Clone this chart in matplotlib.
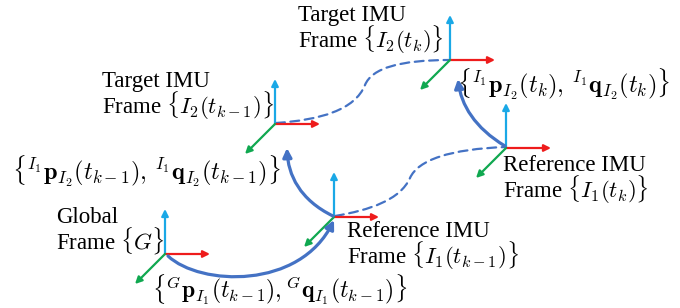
"""
Diagram of the reference / target IMU frames at two time steps.
"""
import matplotlib
matplotlib.use("Agg")
import matplotlib.pyplot as plt
from matplotlib.patches import FancyArrowPatch
from matplotlib.path import Path

plt.rcParams['font.family'] = ['Liberation Serif', 'DejaVu Serif']
plt.rcParams['mathtext.fontset'] = 'cm'

# frame origins (pixel space of the 680x308 picture, y pointing down)
frame_names = ['G', 'I1_km1', 'I2_km1', 'I2_k', 'I1_k']
frame_x = [165, 334, 275, 450, 506]
frame_y = [254, 217, 124, 60, 148]

# frame labels: (text, left x, baseline y of the last line)
label_text = [
    'Target IMU\n' + r'Frame $\{I_2(t_k)\}$',
    'Target IMU\n' + r'Frame $\{I_2(t_{k-1})\}$',
    'Reference IMU\n' + r'Frame $\{I_1(t_k)\}$',
    'Global\n' + r'Frame $\{G\}$',
    'Reference IMU\n' + r'Frame $\{I_1(t_{k-1})\}$',
]
label_x = [298, 102, 503, 56, 347]
label_y = [48, 114, 198, 249, 264]

# pose labels
pose_text = [
    r'$\{^{I_1}\mathbf{p}_{I_2}(t_k),\,{}^{I_1}\mathbf{q}_{I_2}(t_k)\}$',
    r'$\{^{I_1}\mathbf{p}_{I_2}(t_{k-1}),\,{}^{I_1}\mathbf{q}_{I_2}(t_{k-1})\}$',
    r'$\{^{G}\mathbf{p}_{I_1}(t_{k-1}),{}^{G}\mathbf{q}_{I_1}(t_{k-1})\}$',
]
pose_x = [457, 12, 152]
pose_y = [93, 180, 298]
pose_size = [17.5, 17.5, 17]

# solid transform arrows (cubic bezier control points)
solid_curves = [
    [(168, 256), (200, 286), (300, 290), (334, 220)],
    [(333, 216), (300, 200), (288, 175), (287, 148)],
    [(505, 146), (475, 128), (461, 105), (458, 79)],
]
# dashed trajectories (two cubic pieces each)
dashed_curves = [
    [(276, 123), (320, 120), (355, 110), (365, 85), (372, 68), (400, 60), (450, 60)],
    [(335, 216), (370, 210), (400, 200), (410, 178), (418, 160), (450, 149), (506, 147)],
]

RED = '#ee1c1c'
SKY = '#1aa8e6'
GREEN = '#10a850'
CURVE = '#4472c4'

fig = plt.figure(figsize=(6.8, 3.08), dpi=100)
ax = fig.add_axes([0, 0, 1, 1])
ax.set_xlim(0, 680)
ax.set_ylim(308, 0)
ax.axis('off')

# dashed trajectories
for pts in dashed_curves:
    codes = [Path.MOVETO] + [Path.CURVE4] * (len(pts) - 1)
    patch = FancyArrowPatch(path=Path(pts, codes), arrowstyle='-', color=CURVE,
                            lw=1.6, linestyle=(0, (4, 2.5)), zorder=1)
    ax.add_patch(patch)

# coordinate axes of each frame
for x0, y0 in zip(frame_x, frame_y):
    for dx, dy, col in [(0, -45, SKY), (45, 0, RED), (-30, 30, GREEN)]:
        ax.add_patch(FancyArrowPatch((x0, y0), (x0 + dx, y0 + dy),
                                     arrowstyle='-|>', mutation_scale=10,
                                     color=col, lw=1.6, shrinkA=0, shrinkB=0,
                                     zorder=2))

# solid transform arrows
for pts in solid_curves:
    codes = [Path.MOVETO] + [Path.CURVE4] * 3
    ax.add_patch(FancyArrowPatch(path=Path(pts, codes), arrowstyle='-|>',
                                 mutation_scale=13, color=CURVE, lw=2.3,
                                 zorder=3))

for s, x, y in zip(label_text, label_x, label_y):
    ax.text(x, y, s, fontsize=16.5, ha='left', va='baseline',
            linespacing=0.88, color='black')

for s, x, y, fs in zip(pose_text, pose_x, pose_y, pose_size):
    ax.text(x, y, s, fontsize=fs, ha='left', va='baseline', color='black')

fig.savefig('out.png', dpi=100)
